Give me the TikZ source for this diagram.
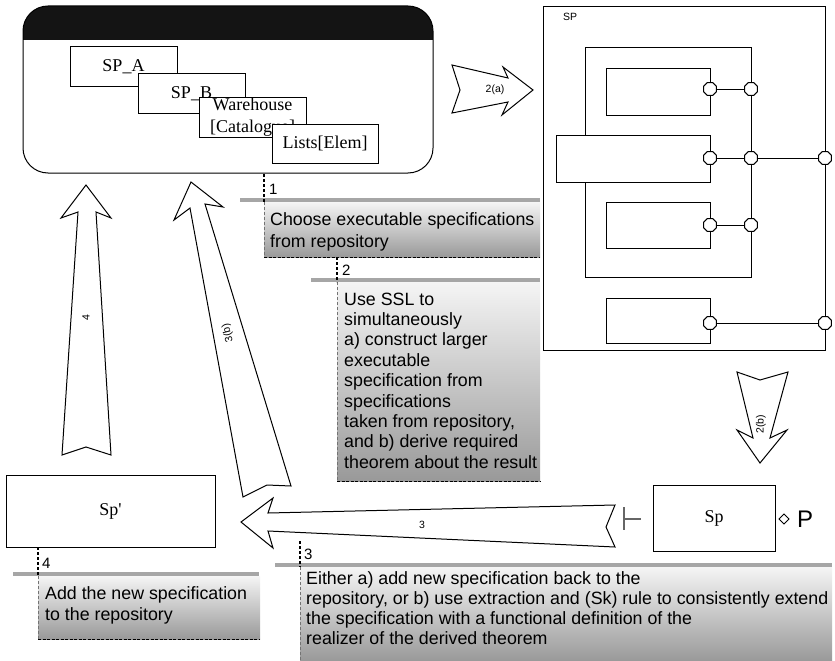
\documentclass[tikz,border=0pt]{standalone}
\usepackage{fontspec}
\setmainfont{Liberation Serif}
\newfontfamily\arialf{Liberation Sans}
\usetikzlibrary{shapes.geometric}
\begin{document}
\begin{tikzpicture}[x=1pt,y=-1pt,
  sbox/.style={draw, line width=1pt, fill=white, inner sep=0pt, outer sep=0pt, anchor=north west, font=\fontsize{18}{22}\selectfont},
  blk/.style={draw, fill=white, line width=1pt, line join=miter},
  port/.style={draw, fill=white, line width=1pt, regular polygon, regular polygon sides=8, minimum size=14pt, inner sep=0pt, outer sep=0pt},
  wire/.style={line width=1pt},
  small/.style={font=\arialf\fontsize{10.5}{12}\selectfont, inner sep=0pt},
  ctext/.style={font=\arialf\fontsize{17.8}{20.4}\selectfont, anchor=base west, inner sep=0pt},
  clabel/.style={font=\arialf\fontsize{15}{18}\selectfont, anchor=base west, inner sep=0pt},
  cbox/.style={anchor=north west, inner sep=0pt, outer sep=0pt, top color=black!4, bottom color=black!40},
  bar/.style={line width=4pt, draw=black!35},
  lead/.style={line width=1.4pt, dash pattern=on 3pt off 2pt},
  sideedge/.style={line width=0.6pt, draw=black!55, dash pattern=on 3pt off 2pt},
  botedge/.style={line width=1pt, dash pattern=on 3pt off 1.5pt}
]
\useasboundingbox (0,0) rectangle (835,661);

% ---------- repository box ----------
\begin{scope}
  \clip[rounded corners=25pt] (23,6) rectangle (433,173);
  \fill[black!92] (23,6) rectangle (433,40);
\end{scope}
\node[draw, line width=1pt, rounded corners=25pt, minimum width=410pt, minimum height=167pt,
      inner sep=0pt, outer sep=0pt, anchor=north west] (repo) at (23,6) {};
\node[sbox, minimum width=107pt, minimum height=39pt] (spa) at (70,47) {SP\_A};
\node[sbox, minimum width=107pt, minimum height=39pt] (spb) at (138,74) {SP\_B};
\node[sbox, minimum width=107pt, minimum height=40pt, align=center] (wh) at (199,97) {Warehouse\\{[}Catalogue{]}};
\node[sbox, minimum width=106pt, minimum height=39pt] (lists) at (272,124) {Lists[Elem]};

% ---------- SP composition ----------
\node[sbox, minimum width=282pt, minimum height=343pt] (sp) at (543,7) {};
\node[small] at (570,17) {SP};
\draw[wire] (585,48) rectangle (751,277);
\node[sbox, minimum width=104pt, minimum height=46pt] (b1) at (606,69) {};
\node[sbox, minimum width=154pt, minimum height=47pt] (bm) at (556,135) {};
\node[sbox, minimum width=104pt, minimum height=46pt] (b3) at (606,202) {};
\node[sbox, minimum width=104pt, minimum height=45pt] (b4) at (606,298) {};
\coordinate (q1) at (710,89);  \coordinate (r1) at (751,89);
\coordinate (q2) at (710,158); \coordinate (r2) at (751,158); \coordinate (s2) at (825,158);
\coordinate (q3) at (710,225); \coordinate (r3) at (751,225);
\coordinate (q4) at (710,323); \coordinate (s4) at (825,323);
\draw[wire] (q1) -- (r1);
\draw[wire] (q2) -- (s2);
\draw[wire] (q3) -- (r3);
\draw[wire] (q4) -- (s4);
\foreach \p in {q1,r1,q2,r2,s2,q3,r3,q4,s4} \node[port] at (\p) {};

% ---------- Sp and Sp' ----------
\node[sbox, minimum width=209pt, minimum height=72pt] (spprime) at (6,475) {Sp\textquotesingle};
\node[sbox, minimum width=122pt, minimum height=66pt] (spn) at (653,485) {Sp};
\draw[line width=2pt, draw=black!60] (624,507) -- (624,530) (624,518.5) -- (641,518.5);
\draw[line width=1pt] (784,514) -- (789,519) -- (784,524) -- (779,519) -- cycle;
\node[font=\arialf\fontsize{24}{27}\selectfont, anchor=west, inner sep=0pt] (P) at (797,519) {P};

% ---------- block arrows ----------
% 2(a)
\draw[blk] (452,65) -- (508,78) -- (503,67) -- (533,90) -- (502,115) -- (508,102) -- (452,113) -- (460,90) -- cycle;
\node[small] at (495,90) {2(a)};
% 2(b)
\draw[blk] (737,372) -- (760,380) -- (788,372) -- (770,438) -- (787,430) -- (760,463) -- (737,430) -- (753,438) -- cycle;
\node[small, rotate=90] at (761,424) {2(b)};
% 4
\draw[blk] (86,185) -- (111,218) -- (96,212) -- (111,455) -- (86,447) -- (62,455) -- (78,212) -- (61,218) -- cycle;
\node[small, rotate=90] at (86,318) {4};
% 3(b)
\draw[blk] (191,182) -- (223,207) -- (205,204) -- (291,486) -- (267,485) -- (243,497) -- (190,208) -- (174,220) -- cycle;
\node[small, rotate=104] at (228,333) {3(b)};
% 3
\draw[blk] (241,522) -- (273,498) -- (268,513) -- (615,505) -- (606,527) -- (615,547) -- (268,531) -- (273,548) -- cycle;
\node[small] at (422,525) {3};

% ---------- callout 1 ----------
\node[cbox, minimum width=276pt, minimum height=55pt] (c1) at (264,202) {};
\draw[sideedge] (c1.north west) -- (c1.south west);
\draw[botedge] (c1.south west) -- (c1.south east);
\draw[bar] (240,200) -- (540,200);
\coordinate (a1) at (264,174);
\draw[lead] (a1) -- (c1.north west);
\node[clabel] at (269,194) {1};
\node[ctext] at (270,225) {Choose executable specifications};
\node[ctext] at (270,247) {from repository};

% ---------- callout 2 ----------
\node[cbox, minimum width=203pt, minimum height=199pt] (c2) at (337,282) {};
\draw[sideedge] (c2.north west) -- (c2.south west);
\draw[botedge] (c2.south west) -- (c2.south east);
\draw[bar] (311,280) -- (540,280);
\draw[lead] (c1.south west -| 337,0) -- (c2.north west);
\node[clabel] at (342,275) {2};
\foreach \t [count=\i from 0] in {Use SSL to, simultaneously, a) construct larger, executable, specification from, specifications, {taken from repository,}, and b) derive required, theorem about the result}
  \node[ctext] at (344,305+20.4*\i) {\t};

% ---------- callout 3 ----------
\node[cbox, minimum width=532pt, minimum height=94pt] (c3) at (300,567) {};
\draw[sideedge] (c3.north west) -- (c3.south west);
\draw[bar] (275,565) -- (832,565);
\coordinate (a3) at (300,541);
\draw[lead] (a3) -- (c3.north west);
\node[clabel] at (304,559) {3};
\node[ctext] at (306,584) {Either a) add new specification back to the};
\node[ctext] at (306,604) {repository, or b) use extraction and (Sk) rule to consistently extend};
\node[ctext] at (306,624) {the specification with a functional definition of the};
\node[ctext] at (306,644) {realizer of the derived theorem};

% ---------- callout 4 ----------
\node[cbox, minimum width=222pt, minimum height=63pt] (c4) at (38,576) {};
\draw[sideedge] (c4.north west) -- (c4.south west);
\draw[botedge] (c4.south west) -- (c4.south east);
\draw[bar] (13,574) -- (259,574);
\draw[lead] (spprime.south west -| 38,0) -- (c4.north west);
\node[clabel] at (42,568) {4};
\node[ctext] at (45,599) {Add the new specification};
\node[ctext] at (45,620) {to the repository};
\end{tikzpicture}
\end{document}
